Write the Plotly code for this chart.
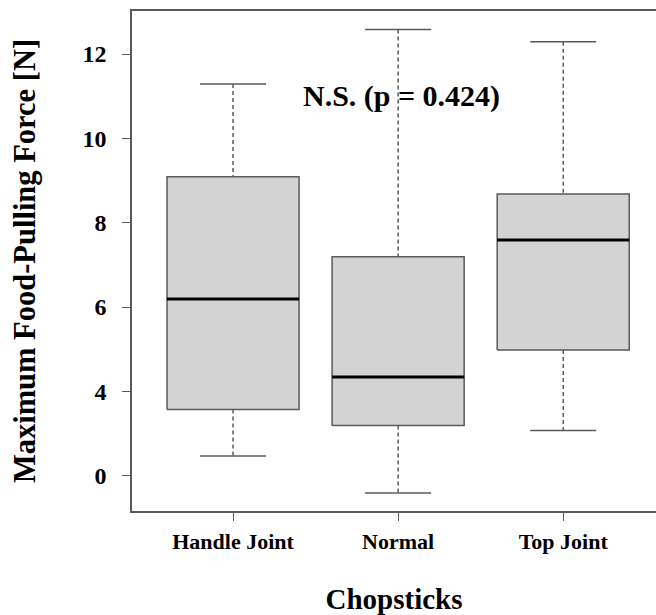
import plotly.graph_objects as go

categories = ["Handle Joint", "Normal", "Top Joint"]
lower_whisker = [2.47, 1.59, 3.07]
q1 = [3.57, 3.19, 4.98]
median = [6.19, 4.34, 7.59]
q3 = [9.09, 7.19, 8.68]
upper_whisker = [11.29, 12.58, 12.29]

tick_vals = [2, 4, 6, 8, 10, 12]
tick_text = ["0", "4", "6", "8", "10", "12"]

box_half = 0.4
cap_half = 0.2
edge = "#5a5a5a"
fill = "#d3d3d3"
FONT = "Liberation Serif"

fig = go.Figure()
for i, name in enumerate(categories):
    x = i + 1
    fig.add_trace(go.Scatter(x=[x, x, None, x, x], y=[upper_whisker[i], q3[i], None, q1[i], lower_whisker[i]],
                             mode="lines", line=dict(color=edge, width=1.5, dash="4px,3px"),
                             hoverinfo="skip", showlegend=False))
    fig.add_trace(go.Scatter(x=[x - cap_half, x + cap_half, None, x - cap_half, x + cap_half],
                             y=[upper_whisker[i], upper_whisker[i], None, lower_whisker[i], lower_whisker[i]],
                             mode="lines", line=dict(color=edge, width=1.5),
                             hoverinfo="skip", showlegend=False))
    fig.add_trace(go.Scatter(x=[x - box_half, x + box_half, x + box_half, x - box_half, x - box_half],
                             y=[q1[i], q1[i], q3[i], q3[i], q1[i]],
                             mode="lines", fill="toself", fillcolor=fill,
                             line=dict(color=edge, width=1.5), name=name, showlegend=False))
    fig.add_trace(go.Scatter(x=[x - box_half, x + box_half], y=[median[i], median[i]],
                             mode="lines", line=dict(color="black", width=3),
                             hoverinfo="skip", showlegend=False))

fig.add_annotation(x=2.02, y=11.0, text="N.S. (p = 0.424)", showarrow=False,
                   font=dict(family=FONT, size=30, color="black", weight="bold"))

fig.update_layout(
    width=656, height=615,
    margin=dict(l=132, r=0, t=11, b=104),
    plot_bgcolor="white", paper_bgcolor="white",
    font=dict(family=FONT, color="black"),
)
fig.update_xaxes(range=[0.388, 3.562], tickvals=[1, 2, 3], ticktext=categories, automargin=False,
                 showgrid=False, zeroline=False, showline=True, mirror=True,
                 linecolor=edge, linewidth=1.5, ticks="outside", ticklen=8, tickcolor=edge,
                 tickfont=dict(family=FONT, size=22, color="black", weight="bold"),
                 ticklabelstandoff=2,
                 title=dict(text="Chopsticks", font=dict(family=FONT, size=29, color="black", weight="bold"),
                            standoff=38))
fig.update_yaxes(range=[1.163, 13.02], tickvals=tick_vals, ticktext=tick_text, automargin=False,
                 showgrid=False, zeroline=False, showline=True, mirror=False,
                 linecolor=edge, linewidth=1.5, ticks="outside", ticklen=8, tickcolor=edge,
                 tickfont=dict(family=FONT, size=24, color="black", weight="bold"),
                 ticklabelstandoff=11,
                 title=dict(text="Maximum Food-Pulling Force [N]",
                            font=dict(family=FONT, size=30.5, color="black", weight="bold"),
                            standoff=38))

fig.write_html("out.html", config={"displayModeBar": False},
               post_script="document.body.style.margin='0';")
